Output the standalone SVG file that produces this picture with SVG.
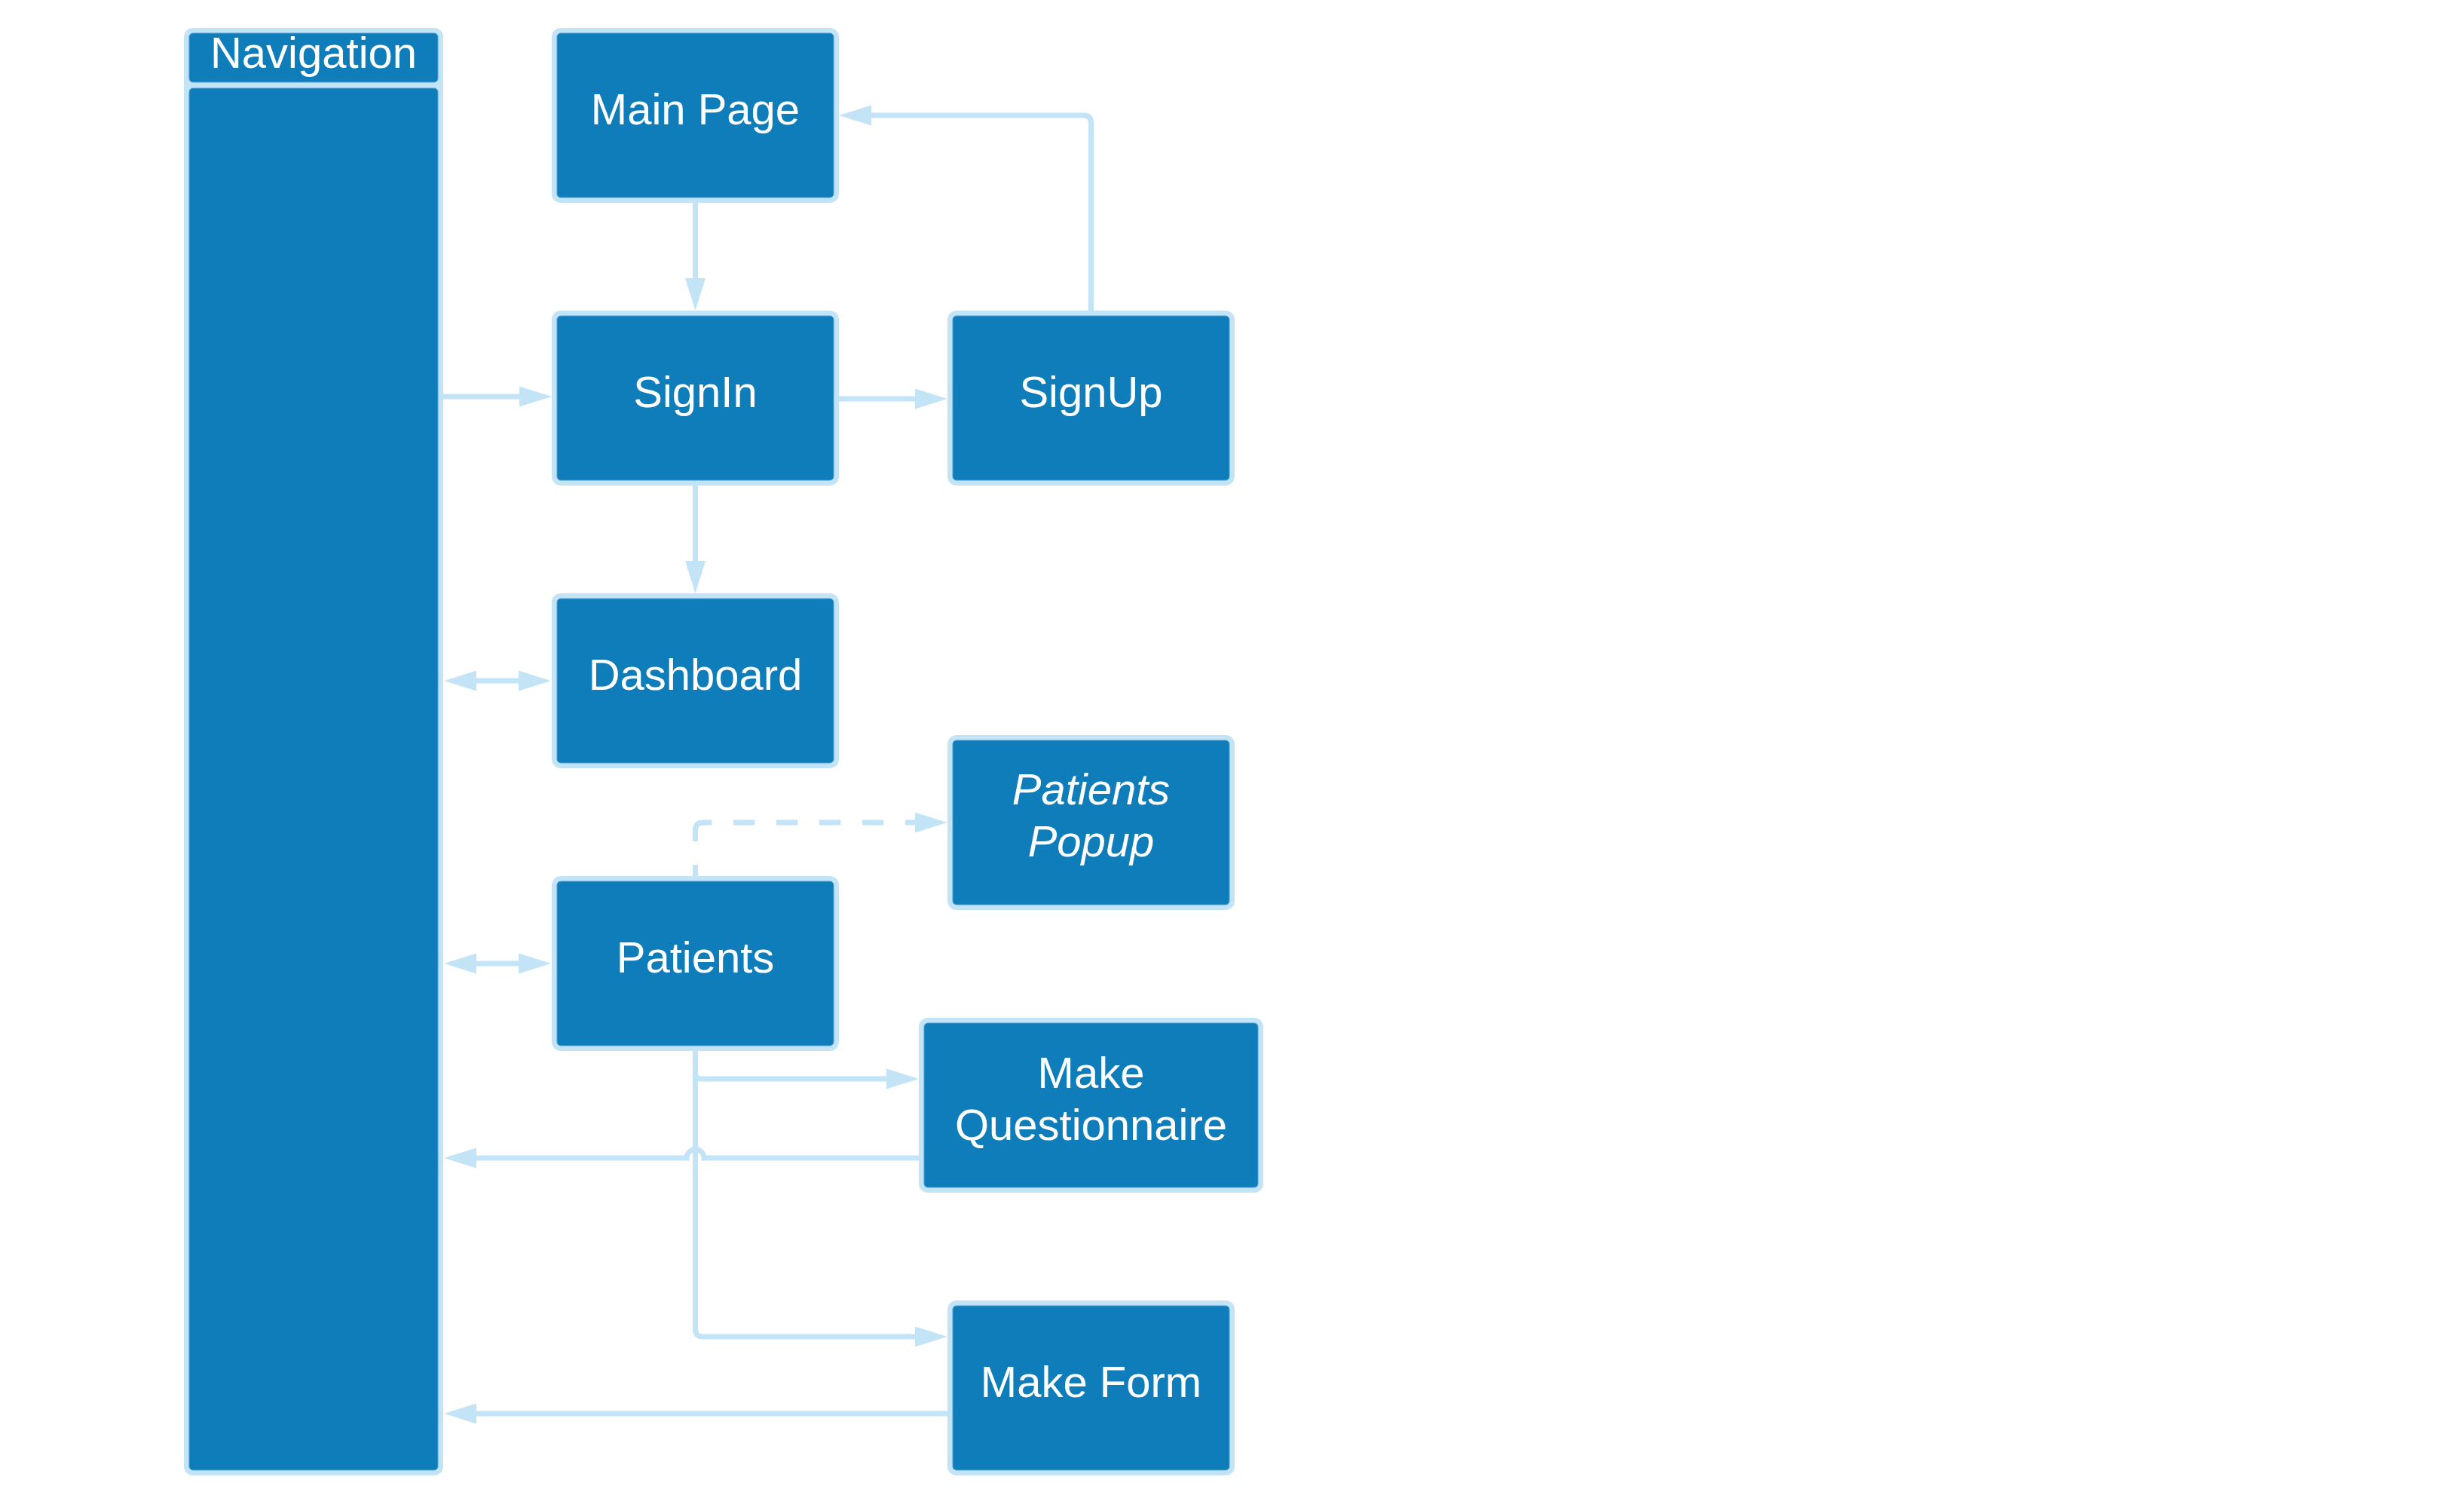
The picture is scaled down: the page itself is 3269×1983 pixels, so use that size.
<svg xmlns="http://www.w3.org/2000/svg" width="3269" height="1983" viewBox="0 0 3269 1983">
  <style>
    .frame { fill: #C3E4F6; }
    .body { fill: #0E7DBA; stroke: #4E9FD2; stroke-width: 1; }
    .label { font-family: "Liberation Sans", Arial, sans-serif; font-size: 58px; fill: #FFFFFF; text-anchor: middle; }
    .italic { font-style: italic; }
    .link { fill: none; stroke: #C3E4F6; stroke-width: 7; }
    .arrow { marker-end: url(#head); }
    .both { marker-start: url(#head); marker-end: url(#head); }
    .dashed { stroke-dasharray: 15 31 43 28.5 28.5 28.5 28.5 28.5 28.5 28.5 28.5 28.5 28.5 60 200; }
  </style>
  <defs>
    <marker id="head" markerUnits="userSpaceOnUse" markerWidth="44" markerHeight="28" viewBox="0 0 44 28" refX="1" refY="14" orient="auto-start-reverse">
      <path d="M0,0.5 L43,14 L0,27.5 z" fill="#C3E4F6"/>
    </marker>
  </defs>
  <rect x="0" y="0" width="3269" height="1983" fill="#FFFFFF"/>

  <!-- navigation column: header and body -->
  <g id="navigation">
    <rect class="frame" x="244" y="37" width="344" height="1920" rx="12"/>
    <rect class="body" x="251" y="44" width="330" height="65" rx="5"/>
    <rect class="body" x="251" y="117" width="330" height="1833" rx="5"/>
    <text class="label" x="416" y="90">Navigation</text>
  </g>

  <g id="main-page">
    <rect class="frame" x="732" y="37" width="381" height="232" rx="12"/>
    <rect class="body" x="739" y="44" width="367" height="218" rx="5"/>
    <text class="label" x="922.5" y="165">Main Page</text>
  </g>

  <g id="sign-in">
    <rect class="frame" x="732" y="412" width="381" height="232" rx="12"/>
    <rect class="body" x="739" y="419" width="367" height="218" rx="5"/>
    <text class="label" x="922.5" y="540">SignIn</text>
  </g>

  <g id="sign-up">
    <rect class="frame" x="1257" y="412" width="381" height="232" rx="12"/>
    <rect class="body" x="1264" y="419" width="367" height="218" rx="5"/>
    <text class="label" x="1447.5" y="540">SignUp</text>
  </g>

  <g id="dashboard">
    <rect class="frame" x="732" y="787" width="381" height="232" rx="12"/>
    <rect class="body" x="739" y="794" width="367" height="218" rx="5"/>
    <text class="label" x="922.5" y="915">Dashboard</text>
  </g>

  <g id="patients-popup">
    <rect class="frame" x="1257" y="975" width="381" height="232" rx="12"/>
    <rect class="body" x="1264" y="982" width="367" height="218" rx="5"/>
    <text class="label italic" x="1447.5" y="1067">Patients</text>
    <text class="label italic" x="1447.5" y="1136">Popup</text>
  </g>

  <g id="patients">
    <rect class="frame" x="732" y="1162" width="381" height="232" rx="12"/>
    <rect class="body" x="739" y="1169" width="367" height="218" rx="5"/>
    <text class="label" x="922.5" y="1290">Patients</text>
  </g>

  <g id="make-questionnaire">
    <rect class="frame" x="1219" y="1350" width="457" height="232" rx="12"/>
    <rect class="body" x="1226" y="1357" width="443" height="218" rx="5"/>
    <text class="label" x="1447.5" y="1443">Make</text>
    <text class="label" x="1447.5" y="1512">Questionnaire</text>
  </g>

  <g id="make-form">
    <rect class="frame" x="1257" y="1725" width="381" height="232" rx="12"/>
    <rect class="body" x="1264" y="1732" width="367" height="218" rx="5"/>
    <text class="label" x="1447.5" y="1853">Make Form</text>
  </g>

  <!-- connectors -->
  <g id="connectors">
    <path class="link arrow" d="M922.5,269 V370"/>
    <path class="link arrow" d="M922.5,644 V745"/>
    <path class="link arrow" d="M588,526 H690"/>
    <path class="link arrow" d="M1113,529 H1215"/>
    <path class="link arrow" d="M1447.5,412 V163 Q1447.5,153 1437.5,153 H1155"/>
    <path class="link both" d="M631,903 H689"/>
    <path class="link both" d="M631,1278 H689"/>
    <path class="link arrow dashed" d="M922.5,1162 V1101 Q922.5,1091 932.5,1091 H1215"/>
    <path class="link arrow" d="M922.5,1394 V1424 Q922.5,1431 929.5,1431 H1177"/>
    <path class="link arrow" d="M922.5,1394 V1763 Q922.5,1773 932.5,1773 H1215"/>
    <path class="link arrow" d="M1219,1536 H934 A11.5,11.5 0 0 0 911,1536 H631"/>
    <path class="link arrow" d="M1257,1875 H631"/>
  </g>
</svg>
